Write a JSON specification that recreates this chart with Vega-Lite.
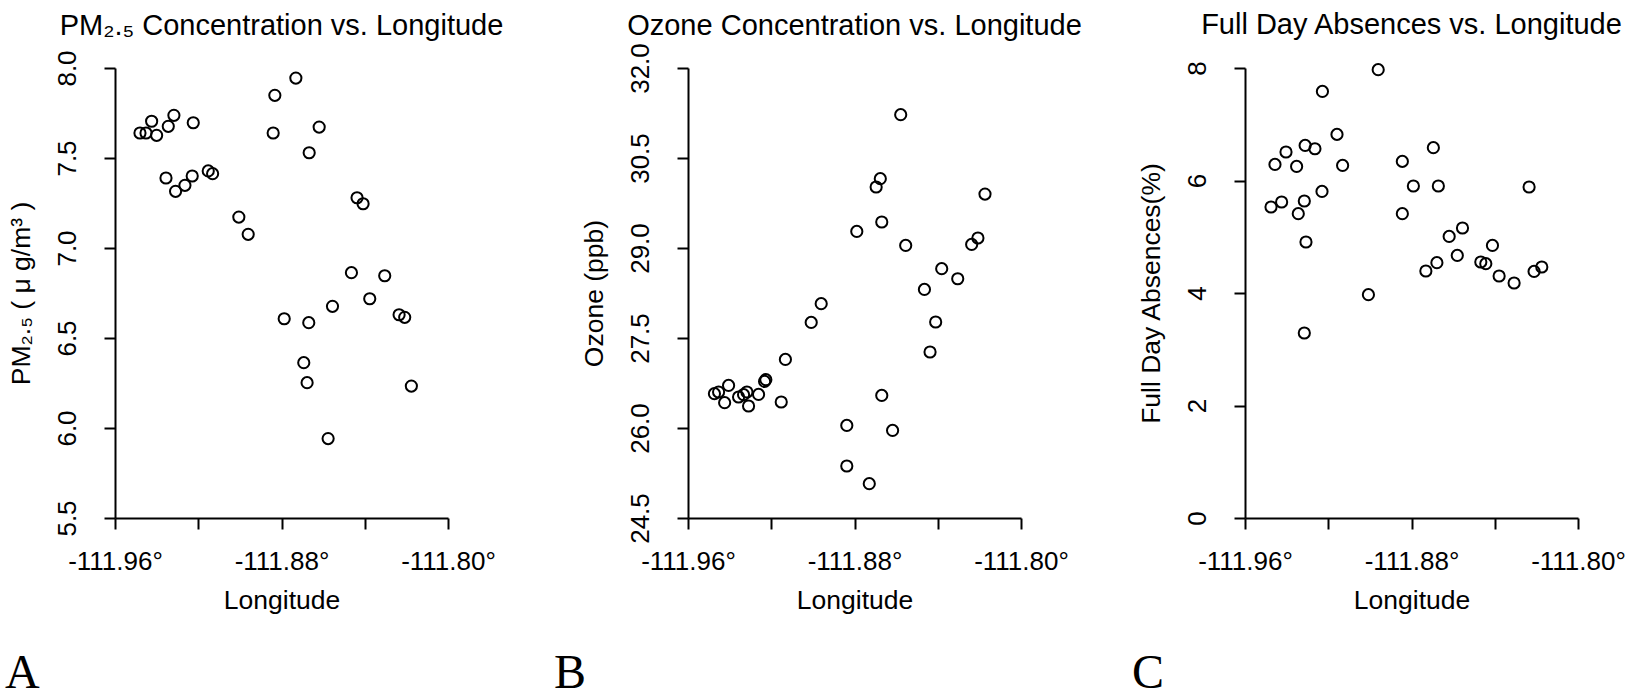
{
  "$schema": "https://vega.github.io/schema/vega-lite/v6.json",
  "background": "white",
  "padding": {"left": 5, "top": 11, "right": 0, "bottom": 0},
  "config": {
    "font": "Liberation Sans",
    "view": {"stroke": null},
    "concat": {"spacing": 50},
    "axis": {
      "domainColor": "black", "domainWidth": 2, "tickColor": "black", "tickWidth": 2, "tickSize": 11,
      "labelColor": "black", "titleColor": "black", "labelFont": "Liberation Sans", "titleFont": "Liberation Sans",
      "labelFontSize": 26, "titleFontSize": 26.5, "titleFontWeight": "normal", "grid": false,
      "labelFlush": false, "labelOverlap": false
    },
    "axisX": {"labelPadding": 19, "titlePadding": 13},
    "axisY": {"labelAngle": -90, "labelPadding": 24, "titlePadding": 19},
    "title": {"font": "Liberation Sans", "fontSize": 29, "fontWeight": "normal", "color": "black"},
    "point": {"shape": "circle", "filled": false, "stroke": "black", "strokeWidth": 2, "size": 125, "opacity": 1}
  },
  "datasets": {
    "pm": [
      {"lon": -111.9480, "pm25": 7.639}, {"lon": -111.9451, "pm25": 7.639}, {"lon": -111.9424, "pm25": 7.704},
      {"lon": -111.9400, "pm25": 7.626}, {"lon": -111.9344, "pm25": 7.676}, {"lon": -111.9317, "pm25": 7.737},
      {"lon": -111.9224, "pm25": 7.696}, {"lon": -111.9355, "pm25": 7.389}, {"lon": -111.9309, "pm25": 7.315},
      {"lon": -111.9264, "pm25": 7.348}, {"lon": -111.9229, "pm25": 7.400}, {"lon": -111.9152, "pm25": 7.428},
      {"lon": -111.9131, "pm25": 7.413}, {"lon": -111.9005, "pm25": 7.172}, {"lon": -111.8960, "pm25": 7.076},
      {"lon": -111.8832, "pm25": 7.848}, {"lon": -111.8731, "pm25": 7.944}, {"lon": -111.8840, "pm25": 7.639},
      {"lon": -111.8619, "pm25": 7.672}, {"lon": -111.8667, "pm25": 7.529}, {"lon": -111.8437, "pm25": 7.279},
      {"lon": -111.8408, "pm25": 7.246}, {"lon": -111.8464, "pm25": 6.863}, {"lon": -111.8304, "pm25": 6.846},
      {"lon": -111.8376, "pm25": 6.718}, {"lon": -111.8555, "pm25": 6.676}, {"lon": -111.8787, "pm25": 6.607},
      {"lon": -111.8669, "pm25": 6.585}, {"lon": -111.8235, "pm25": 6.629}, {"lon": -111.8208, "pm25": 6.615},
      {"lon": -111.8693, "pm25": 6.363}, {"lon": -111.8677, "pm25": 6.252}, {"lon": -111.8176, "pm25": 6.233},
      {"lon": -111.8576, "pm25": 5.941}
    ],
    "oz": [
      {"lon": -111.9473, "ozone": 26.572}, {"lon": -111.9453, "ozone": 26.600}, {"lon": -111.9424, "ozone": 26.422},
      {"lon": -111.9405, "ozone": 26.710}, {"lon": -111.9357, "ozone": 26.517}, {"lon": -111.9333, "ozone": 26.555},
      {"lon": -111.9317, "ozone": 26.600}, {"lon": -111.9309, "ozone": 26.367}, {"lon": -111.9261, "ozone": 26.560},
      {"lon": -111.9232, "ozone": 26.777}, {"lon": -111.9226, "ozone": 26.805}, {"lon": -111.9152, "ozone": 26.433},
      {"lon": -111.9132, "ozone": 27.143}, {"lon": -111.9008, "ozone": 27.760}, {"lon": -111.8960, "ozone": 28.072},
      {"lon": -111.8789, "ozone": 29.277}, {"lon": -111.8696, "ozone": 30.017}, {"lon": -111.8676, "ozone": 30.155},
      {"lon": -111.8669, "ozone": 29.433}, {"lon": -111.8578, "ozone": 31.222}, {"lon": -111.8554, "ozone": 29.043},
      {"lon": -111.8464, "ozone": 28.310}, {"lon": -111.8381, "ozone": 28.655}, {"lon": -111.8304, "ozone": 28.488},
      {"lon": -111.8410, "ozone": 27.767}, {"lon": -111.8437, "ozone": 27.267}, {"lon": -111.8237, "ozone": 29.060},
      {"lon": -111.8207, "ozone": 29.167}, {"lon": -111.8173, "ozone": 29.898}, {"lon": -111.8669, "ozone": 26.543},
      {"lon": -111.8837, "ozone": 26.043}, {"lon": -111.8617, "ozone": 25.960}, {"lon": -111.8837, "ozone": 25.367},
      {"lon": -111.8729, "ozone": 25.072}
    ],
    "ab": [
      {"lon": -111.9475, "absence": 5.529}, {"lon": -111.9424, "absence": 5.618}, {"lon": -111.9456, "absence": 6.286},
      {"lon": -111.9403, "absence": 6.507}, {"lon": -111.9352, "absence": 6.251}, {"lon": -111.9344, "absence": 5.410},
      {"lon": -111.9315, "absence": 5.636}, {"lon": -111.9311, "absence": 6.624}, {"lon": -111.9264, "absence": 6.565},
      {"lon": -111.9307, "absence": 4.907}, {"lon": -111.9315, "absence": 3.289}, {"lon": -111.9230, "absence": 5.806},
      {"lon": -111.9228, "absence": 7.584}, {"lon": -111.9158, "absence": 6.820}, {"lon": -111.9131, "absence": 6.268},
      {"lon": -111.9007, "absence": 3.970}, {"lon": -111.8960, "absence": 7.970}, {"lon": -111.8844, "absence": 6.340},
      {"lon": -111.8844, "absence": 5.410}, {"lon": -111.8791, "absence": 5.902}, {"lon": -111.8695, "absence": 6.583},
      {"lon": -111.8671, "absence": 5.902}, {"lon": -111.8731, "absence": 4.391}, {"lon": -111.8678, "absence": 4.539},
      {"lon": -111.8619, "absence": 5.006}, {"lon": -111.8555, "absence": 5.156}, {"lon": -111.8580, "absence": 4.668},
      {"lon": -111.8467, "absence": 4.551}, {"lon": -111.8443, "absence": 4.521}, {"lon": -111.8411, "absence": 4.846},
      {"lon": -111.8379, "absence": 4.302}, {"lon": -111.8307, "absence": 4.178}, {"lon": -111.8235, "absence": 5.884},
      {"lon": -111.8211, "absence": 4.384}, {"lon": -111.8174, "absence": 4.462}
    ]
  },
  "hconcat": [
    {
      "title": {"text": "A", "orient": "bottom", "anchor": "start", "dx": -3, "font": "Liberation Serif", "fontSize": 48, "offset": 36},
      "vconcat": [
        {
          "width": 333, "height": 450,
          "title": {"text": "PM₂.₅ Concentration vs. Longitude", "offset": 9},
          "data": {"name": "pm"},
          "mark": {"type": "point"},
          "encoding": {
            "x": {"field": "lon", "type": "quantitative",
              "scale": {"domain": [-111.96, -111.80], "nice": false, "zero": false},
              "axis": {"values": [-111.96, -111.92, -111.88, -111.84, -111.80], "title": "Longitude",
                "labelExpr": "abs(datum.value + 111.92) < 0.001 || abs(datum.value + 111.84) < 0.001 ? '' : replace(format(datum.value, '.2f'), '\u2212', '-') + '°'"}},
            "y": {"field": "pm25", "type": "quantitative",
              "scale": {"domain": [5.5, 8.0], "nice": false, "zero": false},
              "axis": {"values": [5.5, 6.0, 6.5, 7.0, 7.5, 8.0], "format": ".1f", "title": "PM₂.₅ ( μ g/m³ )"}}
          }
        }
      ]
    },
    {
      "title": {"text": "B", "orient": "bottom", "anchor": "start", "dx": -27, "font": "Liberation Serif", "fontSize": 48, "offset": 36},
      "vconcat": [
        {
          "width": 333, "height": 450,
          "title": {"text": "Ozone Concentration vs. Longitude", "offset": 2},
          "data": {"name": "oz"},
          "mark": {"type": "point"},
          "encoding": {
            "x": {"field": "lon", "type": "quantitative",
              "scale": {"domain": [-111.96, -111.80], "nice": false, "zero": false},
              "axis": {"values": [-111.96, -111.92, -111.88, -111.84, -111.80], "title": "Longitude",
                "labelExpr": "abs(datum.value + 111.92) < 0.001 || abs(datum.value + 111.84) < 0.001 ? '' : replace(format(datum.value, '.2f'), '\u2212', '-') + '°'"}},
            "y": {"field": "ozone", "type": "quantitative",
              "scale": {"domain": [24.5, 32.0], "nice": false, "zero": false},
              "axis": {"values": [24.5, 26.0, 27.5, 29.0, 30.5, 32.0], "format": ".1f", "title": "Ozone (ppb)"}}
          }
        }
      ]
    },
    {
      "title": {"text": "C", "orient": "bottom", "anchor": "start", "dx": -6, "font": "Liberation Serif", "fontSize": 48, "offset": 36},
      "vconcat": [
        {
          "width": 333, "height": 450,
          "title": {"text": "Full Day Absences vs. Longitude", "offset": 20},
          "data": {"name": "ab"},
          "mark": {"type": "point"},
          "encoding": {
            "x": {"field": "lon", "type": "quantitative",
              "scale": {"domain": [-111.96, -111.80], "nice": false, "zero": false},
              "axis": {"values": [-111.96, -111.92, -111.88, -111.84, -111.80], "title": "Longitude",
                "labelExpr": "abs(datum.value + 111.92) < 0.001 || abs(datum.value + 111.84) < 0.001 ? '' : replace(format(datum.value, '.2f'), '\u2212', '-') + '°'"}},
            "y": {"field": "absence", "type": "quantitative",
              "scale": {"domain": [0, 8], "nice": false, "zero": false},
              "axis": {"values": [0, 2, 4, 6, 8], "format": "d", "title": "Full Day Absences(%)"}}
          }
        }
      ]
    }
  ]
}
